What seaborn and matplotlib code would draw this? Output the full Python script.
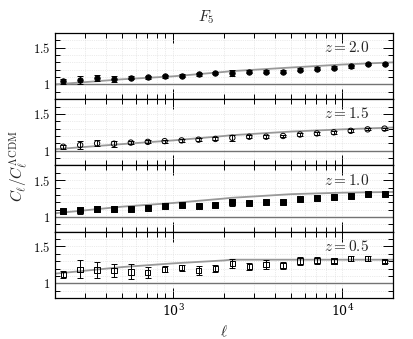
import numpy as np
import pandas as pd
import matplotlib
matplotlib.use("Agg")
import matplotlib.pyplot as plt
import matplotlib.ticker as mticker
import seaborn as sns

# multipoles of the binned measurements
ell = [224, 282, 355, 447, 562, 708, 891, 1122, 1413, 1778,
       2239, 2818, 3548, 4467, 5623, 7079, 8913, 11220, 14125, 17783]

# ratios C_l / C_l^LCDM per redshift
ratio_z20 = [1.04, 1.06, 1.085, 1.07, 1.09, 1.10, 1.11, 1.12, 1.135, 1.15,
             1.16, 1.175, 1.175, 1.175, 1.20, 1.21, 1.225, 1.245, 1.275, 1.28]
err_z20 = [0.03, 0.05, 0.04, 0.04, 0.02, 0.02, 0.02, 0.02, 0.015, 0.015,
           0.04, 0.02, 0.02, 0.02, 0.02, 0.02, 0.02, 0.02, 0.015, 0.015]

ratio_z15 = [1.054, 1.077, 1.10, 1.095, 1.11, 1.12, 1.13, 1.14, 1.15, 1.16,
             1.175, 1.19, 1.19, 1.20, 1.22, 1.235, 1.25, 1.27, 1.29, 1.30]
err_z15 = [0.03, 0.05, 0.04, 0.04, 0.02, 0.02, 0.02, 0.02, 0.02, 0.02,
           0.04, 0.02, 0.02, 0.02, 0.02, 0.02, 0.02, 0.02, 0.015, 0.015]

ratio_z10 = [1.075, 1.09, 1.11, 1.11, 1.115, 1.125, 1.145, 1.16, 1.155, 1.165,
             1.20, 1.195, 1.205, 1.205, 1.25, 1.255, 1.27, 1.29, 1.31, 1.31]
err_z10 = [0.04, 0.05, 0.045, 0.045, 0.025, 0.025, 0.025, 0.025, 0.02, 0.02,
           0.05, 0.02, 0.025, 0.02, 0.025, 0.025, 0.02, 0.02, 0.02, 0.02]

ratio_z05 = [1.115, 1.19, 1.18, 1.17, 1.155, 1.145, 1.19, 1.21, 1.175, 1.20,
             1.27, 1.23, 1.255, 1.245, 1.30, 1.31, 1.30, 1.335, 1.335, 1.295]
err_z05 = [0.05, 0.125, 0.11, 0.09, 0.10, 0.08, 0.04, 0.04, 0.06, 0.05,
           0.06, 0.05, 0.06, 0.05, 0.05, 0.05, 0.03, 0.03, 0.03, 0.02]

# theory curves
model_ell = [200, 500, 1000, 2000, 2200, 5000, 10000, 20000]
model_z20 = [1.00, 1.07, 1.11, 1.17, 1.18, 1.23, 1.27, 1.30]
model_z15 = [1.02, 1.09, 1.14, 1.20, 1.21, 1.26, 1.29, 1.315]
model_z10 = [1.05, 1.14, 1.19, 1.25, 1.26, 1.31, 1.33, 1.34]
model_z05 = [1.13, 1.22, 1.27, 1.31, 1.32, 1.32, 1.32, 1.32]

panels = [
    ("2.0", ratio_z20, err_z20, model_z20, "o", "black"),
    ("1.5", ratio_z15, err_z15, model_z15, "o", "none"),
    ("1.0", ratio_z10, err_z10, model_z10, "s", "black"),
    ("0.5", ratio_z05, err_z05, model_z05, "s", "none"),
]

sns.set_theme(style="ticks")
plt.rcParams["font.family"] = ["DejaVu Serif"]
plt.rcParams["mathtext.fontset"] = "cm"

fig, axes = plt.subplots(4, 1, sharex=True, figsize=(4.13, 3.39), dpi=100)
fig.subplots_adjust(left=0.133, right=0.952, top=0.903, bottom=0.121, hspace=0)

for ax, (z, vals, errs, model, mk, fc) in zip(axes, panels):
    ax.set_xscale("log")
    df = pd.DataFrame({"ell": model_ell, "ratio": model})
    sns.lineplot(data=df, x="ell", y="ratio", ax=ax, color="0.6", lw=1.3, zorder=2)
    ax.axhline(1.0, color="0.45", lw=1.0, zorder=1)
    ax.errorbar(ell, vals, yerr=errs, fmt="none", ecolor="black", elinewidth=0.7,
                capsize=2.5, capthick=0.7, zorder=3)
    dp = pd.DataFrame({"ell": ell, "ratio": vals})
    sns.scatterplot(data=dp, x="ell", y="ratio", ax=ax, marker=mk, s=15,
                    facecolor=fc, edgecolor="black", linewidth=0.7, zorder=4)
    ax.set_xlim(200, 20000)
    ax.set_ylim(0.8, 1.7)
    ax.set_yticks([1.0, 1.5])
    ax.set_yticklabels(["$1$", "$1.5$"])
    ax.yaxis.set_minor_locator(mticker.MultipleLocator(0.1))
    ax.xaxis.set_minor_locator(mticker.LogLocator(base=10, subs=np.arange(2, 10)))
    ax.xaxis.set_minor_formatter(mticker.NullFormatter())
    ax.tick_params(which="both", direction="in", top=True, right=True, labelsize=9,
                   width=0.7, colors="black")
    ax.tick_params(which="major", length=7)
    ax.tick_params(which="minor", length=3.5)
    ax.grid(which="both", ls=":", lw=0.5, color="0.85")
    ax.text(0.93, 0.78, f"$z = {z}$", transform=ax.transAxes, ha="right",
            va="center", fontsize=11)
    ax.set_xlabel("")
    ax.set_ylabel("")
    for sp in ax.spines.values():
        sp.set_linewidth(0.9)
        sp.set_color("black")

axes[-1].set_xlabel(r"$\ell$", fontsize=11)
fig.text(0.045, 0.51, r"$C_\ell/C_\ell^{\Lambda\mathrm{CDM}}$", rotation=90,
         ha="center", va="center", fontsize=11)
fig.suptitle(r"$F_5$", y=0.975, fontsize=11)

fig.savefig("out.png", dpi=100)
